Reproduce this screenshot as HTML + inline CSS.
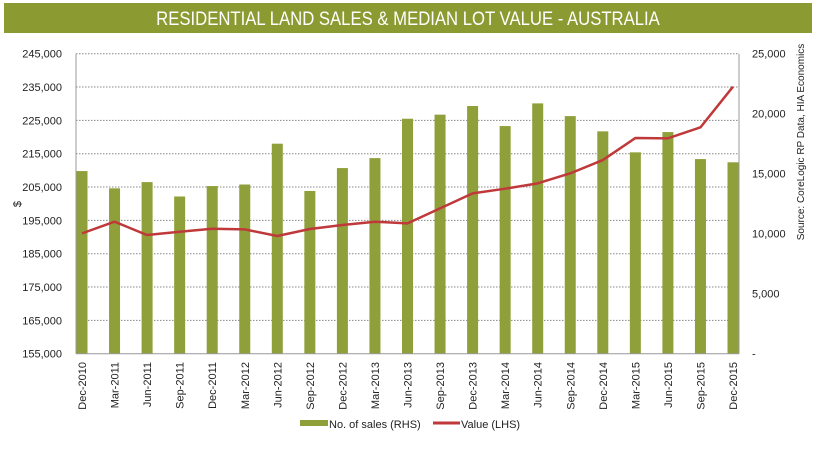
<!DOCTYPE html>
<html><head><meta charset="utf-8"><style>
body{margin:0;background:#fff;width:816px;height:447px;overflow:hidden;font-family:"Liberation Sans",sans-serif}
svg text{font-family:"Liberation Sans",sans-serif}
</style></head><body>
<svg id="chart" width="816" height="447">
<rect x="4" y="3" width="808" height="30" fill="#8c9a32"/>
<text x="408" y="25" text-anchor="middle" fill="#fff" font-size="19" transform="translate(408,0) scale(0.88,1) translate(-408,0)">RESIDENTIAL LAND SALES &amp; MEDIAN LOT VALUE - AUSTRALIA</text>
<g id="grid"></g><g id="bars"></g><g id="line"></g><g id="axes"></g>
<text transform="translate(21,204) rotate(-90)" text-anchor="middle" font-size="11" fill="#222">$</text>
<text transform="translate(804,142) rotate(-90)" text-anchor="middle" font-size="10" fill="#222">Source: CoreLogic RP Data, HIA Economics</text>
<rect x="300" y="420" width="28" height="6" fill="#8fa03a"/>
<text x="329" y="428" font-size="11" fill="#222">No. of sales (RHS)</text>
<line x1="433" y1="423" x2="460" y2="423" stroke="#c0393a" stroke-width="3"/>
<text x="461" y="428" font-size="11" fill="#222">Value (LHS)</text>
</svg>
<script>
const categories=["Dec-2010","Mar-2011","Jun-2011","Sep-2011","Dec-2011","Mar-2012","Jun-2012","Sep-2012","Dec-2012","Mar-2013","Jun-2013","Sep-2013","Dec-2013","Mar-2014","Jun-2014","Sep-2014","Dec-2014","Mar-2015","Jun-2015","Sep-2015","Dec-2015"];
const salesRHS=[15220,13780,14300,13100,13970,14100,17500,13560,15470,16300,19580,19920,20640,18970,20860,19800,18530,16780,18470,16220,15950];
const valueLHS=[191100,194600,190600,191600,192500,192300,190300,192400,193600,194600,194100,198600,203100,204500,206100,209100,213100,219700,219600,222900,235100];
const leftTicks=[155000,165000,175000,185000,195000,205000,215000,225000,235000,245000];
const rightTicks=[0,5000,10000,15000,20000,25000];
const NS="http://www.w3.org/2000/svg";
const X0=76,X1=739,YT=53.7,YB=353.7;
function yL(v){return YB-(v-155000)/90000*(YB-YT);}
function yR(v){return YB-v/25000*(YB-YT);}
function xC(i){return 82+i*(733-82)/(categories.length-1);}
function mk(tag,attrs,parent){const e=document.createElementNS(NS,tag);for(const k in attrs)e.setAttribute(k,attrs[k]);document.getElementById(parent).appendChild(e);return e;}
const fmt=v=>v.toLocaleString("en-US");
leftTicks.forEach(t=>{
  const y=yL(t);
  if(t>155000){const g=mk("line",{x1:X0,x2:X1,y1:y,y2:y,stroke:"#888","stroke-dasharray":"1.5,1.5","stroke-width":1},"grid");
  
  }
  const tx=mk("text",{x:62,y:y+4,"text-anchor":"end","font-size":11,fill:"#222"},"axes");tx.textContent=fmt(t);
  
  
});
rightTicks.forEach(t=>{
  const y=yR(t);
  const tx=mk("text",{x:752,y:y+4,"font-size":11,fill:"#222"},"axes");tx.textContent=t===0?"-":fmt(t);
  
  
});
categories.forEach((c,i)=>{
  const x=xC(i),y=yR(salesRHS[i]);
  const b=mk("rect",{x:x-5.5,y:y,width:11,height:YB-y,fill:"#8fa03a"},"bars");
  
  
  const tx=mk("text",{transform:`translate(${x+4},${362}) rotate(-90)`,"text-anchor":"end","font-size":11,fill:"#222"},"axes");tx.textContent=c;
  
  
});
const pts=valueLHS.map((v,i)=>xC(i)+","+yL(v)).join(" ");
const pl=mk("polyline",{points:pts,fill:"none",stroke:"#c0393a","stroke-width":2.5,"stroke-linejoin":"round"},"line");


const ax1=mk("line",{x1:X0,x2:X0,y1:YT,y2:YB,stroke:"#999"},"axes");


const ax2=mk("line",{x1:X1,x2:X1,y1:YT,y2:YB,stroke:"#999"},"axes");


const ax3=mk("line",{x1:X0,x2:X1,y1:YB,y2:YB,stroke:"#999"},"axes");


</script>
</body></html>
